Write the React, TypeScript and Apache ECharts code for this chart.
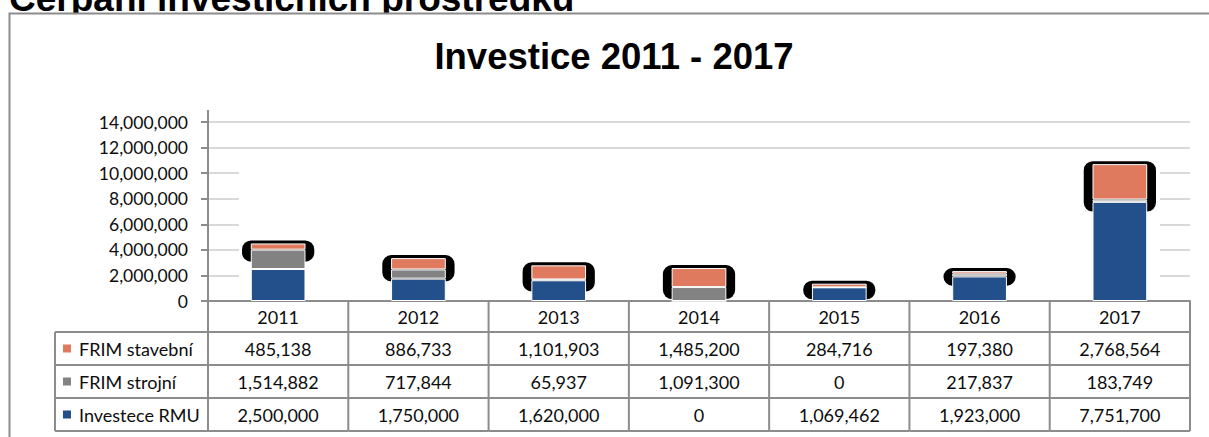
import React, { useEffect, useRef } from "react";
import * as echarts from "echarts";

const pageTitle = "Čerpání investičních prostředků";
const chartTitle = "Investice 2011 - 2017";
const categories = ["2011", "2012", "2013", "2014", "2015", "2016", "2017"];
const seriesNames = ["FRIM stavební", "FRIM strojní", "Investece RMU"];
const frimStavebni = [485138, 886733, 1101903, 1485200, 284716, 197380, 2768564];
const frimStrojni = [1514882, 717844, 65937, 1091300, 0, 217837, 183749];
const investeceRMU = [2500000, 1750000, 1620000, 0, 1069462, 1923000, 7751700];
const yMin = 0;
const yMax = 14000000;
const yInterval = 2000000;

const colors = { stavebni: "#DF7A5E", strojni: "#828282", rmu: "#23508A" };
const FONT = "Lato, 'Open Sans', sans-serif";
const TITLE_FONT = "'Liberation Sans', Arial, sans-serif";
const BORDER = "#8C8C8C";
const TEXT = "#0d0d0d";

const fmt = (v: number) => v.toLocaleString("en-US");

const rows = [
  { name: seriesNames[0], color: colors.stavebni, values: frimStavebni },
  { name: seriesNames[1], color: colors.strojni, values: frimStrojni },
  { name: seriesNames[2], color: colors.rmu, values: investeceRMU },
];

const HEADER_H = 31;
const ROW_H = 33;
const LEGEND_LEFT = 55;
const TABLE_FS = 18;

export default function App() {
  const ref = useRef<HTMLDivElement>(null);

  useEffect(() => {
    if (!ref.current) return;
    const chart = echarts.init(ref.current, null, { renderer: "svg" });
    const totals = categories.map((_, i) => investeceRMU[i] + frimStrojni[i] + frimStavebni[i]);
    const lineStyle = { stroke: BORDER, lineWidth: 2 };

    const tableRender = (params: any, api: any) => {
      const i = api.value(0);
      const base = api.coord([i, 0]);
      const w = api.size([1, 0])[0];
      const x0 = base[0] - w / 2;
      const x1 = base[0] + w / 2;
      const y0 = base[1];
      const yEnd = y0 + HEADER_H + 3 * ROW_H;
      const children: any[] = [];
      children.push({ type: "line", shape: { x1: x0, y1: y0, x2: x0, y2: yEnd }, style: lineStyle });
      if (i === categories.length - 1) {
        children.push({ type: "line", shape: { x1: x1, y1: y0, x2: x1, y2: yEnd }, style: lineStyle });
      }
      for (let r = 0; r <= 3; r++) {
        const y = y0 + HEADER_H + r * ROW_H;
        children.push({ type: "line", shape: { x1: x0, y1: y, x2: x1, y2: y }, style: lineStyle });
      }
      children.push({
        type: "text",
        style: {
          text: categories[i], x: base[0], y: y0 + HEADER_H / 2 + 0.5,
          align: "center", verticalAlign: "middle", fill: TEXT,
          fontSize: TABLE_FS, fontFamily: FONT,
        },
      });
      rows.forEach((row, r) => {
        children.push({
          type: "text",
          style: {
            text: fmt(row.values[i]), x: base[0], y: y0 + HEADER_H + r * ROW_H + ROW_H / 2 + 0.5,
            align: "center", verticalAlign: "middle", fill: TEXT,
            fontSize: TABLE_FS, fontFamily: FONT,
          },
        });
      });
      if (i === 0) {
        for (let r = 0; r <= 3; r++) {
          const y = y0 + HEADER_H + r * ROW_H;
          children.push({ type: "line", shape: { x1: LEGEND_LEFT, y1: y, x2: x0, y2: y }, style: lineStyle });
        }
        children.push({
          type: "line",
          shape: { x1: LEGEND_LEFT, y1: y0 + HEADER_H, x2: LEGEND_LEFT, y2: yEnd },
          style: lineStyle,
        });
        rows.forEach((row, r) => {
          const cy = y0 + HEADER_H + r * ROW_H + ROW_H / 2;
          children.push({
            type: "rect",
            shape: { x: LEGEND_LEFT + 8, y: cy - 4, width: 8, height: 8 },
            style: { fill: row.color },
          });
          children.push({
            type: "text",
            style: {
              text: row.name, x: LEGEND_LEFT + 24, y: cy + 0.5,
              align: "left", verticalAlign: "middle", fill: TEXT,
              fontSize: TABLE_FS, fontFamily: FONT,
            },
          });
        });
      }
      return { type: "group", children };
    };

    const capsuleRender = (params: any, api: any) => {
      const i = api.value(0);
      const total = api.value(1);
      const top = api.value(2);
      const pTop = api.coord([i, total]);
      const pSeg = api.coord([i, total - top]);
      const pBase = api.coord([i, 0]);
      const w = api.size([1, 0])[0] * 0.515;
      const y1 = pTop[1] - 3;
      const y2 = Math.min(pSeg[1] + 12, pBase[1] - 1);
      return {
        type: "rect",
        shape: { x: pTop[0] - w / 2, y: y1, width: w, height: y2 - y1, r: 9 },
        style: { fill: "#000" },
      };
    };

    const barCommon = {
      type: "bar" as const,
      stack: "total",
      barWidth: "39%",
      z: 3,
      itemStyle: { borderColor: "#ffffff", borderWidth: 1 },
    };

    chart.setOption({
      animation: false,
      backgroundColor: "#ffffff",
      graphic: [
        {
          type: "text", z: 0,
          style: {
            text: pageTitle, x: 9, y: -2, align: "left", verticalAlign: "middle",
            fill: "#000", fontSize: 37, fontWeight: "bold", fontFamily: TITLE_FONT,
          },
        },
        { type: "rect", z: 1, shape: { x: 10, y: 14, width: 1210, height: 30 }, style: { fill: "#fff" } },
        {
          type: "rect", z: 1,
          shape: { x: 9.5, y: 13.5, width: 1220, height: 440 },
          style: { fill: "none", stroke: BORDER, lineWidth: 2 },
        },
        {
          type: "text", z: 1,
          style: {
            text: chartTitle, x: 614, y: 56, align: "center", verticalAlign: "middle",
            fill: "#000", fontSize: 36.5, fontWeight: "bold", fontFamily: TITLE_FONT,
          },
        },
        { type: "rect", z: 1, shape: { x: 239, y: 155, width: 921, height: 144 }, style: { fill: "#fff" } },
        { type: "line", z: 1, shape: { x1: 208, y1: 110, x2: 208, y2: 122 }, style: { stroke: BORDER, lineWidth: 2 } },
      ],
      grid: { left: 208, right: 19, top: 122, bottom: 136, containLabel: false },
      xAxis: {
        type: "category",
        data: categories,
        axisLine: { show: true, lineStyle: { color: BORDER, width: 2 } },
        axisTick: { show: false },
        axisLabel: { show: false },
        splitLine: { show: false },
      },
      yAxis: {
        type: "value",
        min: yMin,
        max: yMax,
        interval: yInterval,
        axisLine: { show: true, lineStyle: { color: BORDER, width: 2 } },
        axisTick: { show: true, length: 7, lineStyle: { color: BORDER, width: 2 } },
        axisLabel: {
          margin: 20, color: TEXT, fontSize: 17.5, fontFamily: FONT,
          formatter: (v: number) => fmt(v),
        },
        splitLine: { show: true, lineStyle: { color: "#D9D9D9", width: 2 } },
      },
      series: [
        { ...barCommon, name: seriesNames[2], data: investeceRMU, itemStyle: { ...barCommon.itemStyle, color: colors.rmu } },
        { ...barCommon, name: seriesNames[1], data: frimStrojni, itemStyle: { ...barCommon.itemStyle, color: colors.strojni } },
        { ...barCommon, name: seriesNames[0], data: frimStavebni, itemStyle: { ...barCommon.itemStyle, color: colors.stavebni } },
        {
          type: "custom",
          name: "capsule",
          z: 2,
          clip: false,
          renderItem: capsuleRender,
          data: categories.map((_, i) => [i, totals[i], frimStavebni[i]]),
        },
        {
          type: "custom",
          name: "table",
          z: 4,
          clip: false,
          renderItem: tableRender,
          data: categories.map((_, i) => [i, 0]),
        },
      ],
    });
    return () => chart.dispose();
  }, []);

  return (
    <div
      ref={ref}
      style={{ position: "absolute", left: 0, top: 0, width: 1209, height: 437, background: "#fff" }}
    />
  );
}
